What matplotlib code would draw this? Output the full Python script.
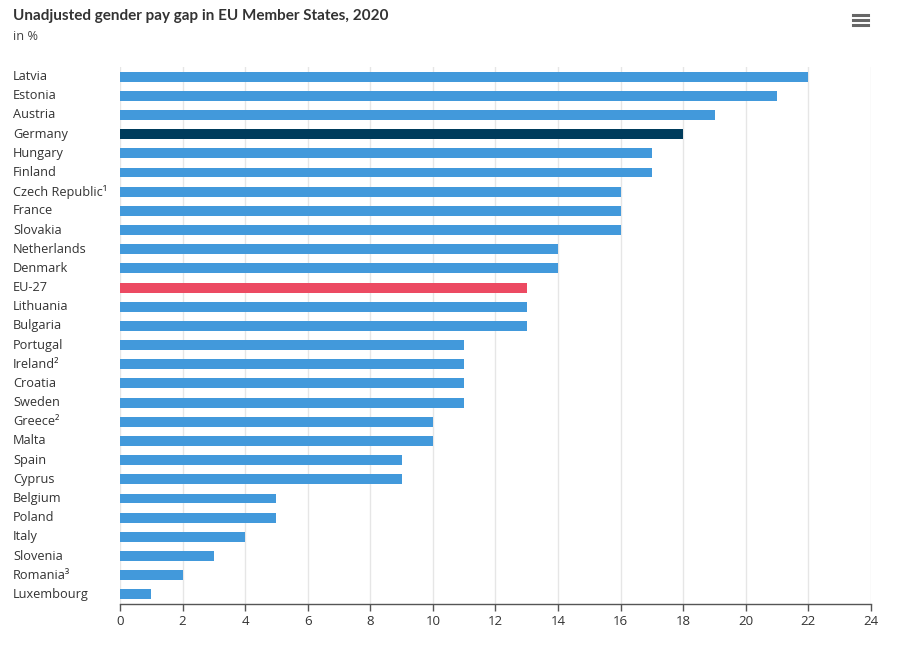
import matplotlib
matplotlib.use("Agg")
import matplotlib.pyplot as plt
import matplotlib.transforms as mtransforms
from matplotlib.lines import Line2D

countries = ["Latvia", "Estonia", "Austria", "Germany", "Hungary", "Finland",
             "Czech Republic¹", "France", "Slovakia", "Netherlands", "Denmark",
             "EU-27", "Lithuania", "Bulgaria", "Portugal", "Ireland²", "Croatia",
             "Sweden", "Greece²", "Malta", "Spain", "Cyprus", "Belgium", "Poland",
             "Italy", "Slovenia", "Romania³", "Luxembourg"]
values = [22, 21, 19, 18, 17, 17, 16, 16, 16, 14, 14, 13, 13, 13, 11, 11, 11,
          11, 10, 10, 9, 9, 5, 5, 4, 3, 2, 1]
xticks = [0, 2, 4, 6, 8, 10, 12, 14, 16, 18, 20, 22, 24]

BLUE = "#4299db"
DARK = "#003c5c"
RED = "#ec4a62"
colors = [DARK if c == "Germany" else RED if c == "EU-27" else BLUE for c in countries]

plt.rcParams['font.family'] = ['Open Sans', 'DejaVu Sans']

fig = plt.figure(figsize=(9, 6.57), dpi=100)
ax = fig.add_axes([0.1333, 0.0807, 0.8345, 0.8173])

y = list(range(len(countries)))
ax.barh(y, values, height=0.52, color=colors, zorder=3)
ax.set_ylim(len(countries) - 0.5, -0.5)
ax.set_xlim(0, 24)
ax.set_xticks(xticks)
ax.set_xticklabels([str(t) for t in xticks], fontsize=9.5, color="#333333")
ax.set_yticks(y)
ax.set_yticklabels([])
trans = mtransforms.blended_transform_factory(fig.transFigure, ax.transData)
for yi, c in zip(y, countries):
    ax.text(13 / 900, yi, c, transform=trans, ha="left", va="center",
            fontsize=9.2, color="#333333")
ax.tick_params(axis="y", length=0)
ax.tick_params(axis="x", length=5, width=1, color="#555555", pad=3)
ax.grid(axis="x", color="#e6e6e6", linewidth=1, zorder=0)
for s in ["top", "right", "left"]:
    ax.spines[s].set_visible(False)
ax.spines["bottom"].set_color("#555555")
ax.spines["bottom"].set_linewidth(1)

fig.text(13 / 900, 1 - 16 / 657, "Unadjusted gender pay gap in EU Member States, 2020",
         fontsize=11, fontweight="bold", color="#333333", va="center", ha="left",
         family=["Lato", "DejaVu Sans"])
fig.text(13 / 900, 1 - 37 / 657, "in %", fontsize=9.2, color="#444444", va="center", ha="left")

# menu icon
for yy in [15, 20, 25]:
    fig.add_artist(Line2D([853 / 900, 868 / 900], [1 - yy / 657, 1 - yy / 657],
                          transform=fig.transFigure, color="#666666", linewidth=2.2))

fig.savefig("out.png", dpi=100)
